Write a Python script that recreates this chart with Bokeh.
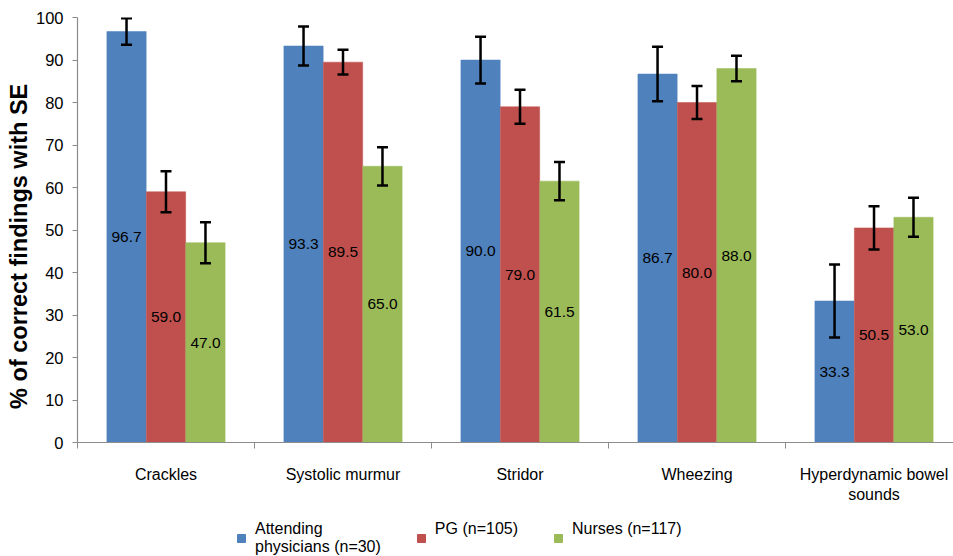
from bokeh.plotting import figure
from bokeh.models import (ColumnDataSource, Whisker, TeeHead, FixedTicker, Legend,
                          LegendItem, Range1d)
from bokeh.layouts import column
from bokeh.embed import file_html
from bokeh.resources import INLINE

categories = ["Crackles", "Systolic murmur", "Stridor", "Wheezing", "Hyperdynamic bowel\nsounds"]
series_names = ["Attending\nphysicians (n=30)", "PG (n=105)", "Nurses (n=117)"]
attending = [96.7, 93.3, 90.0, 86.7, 33.3]
pg = [59.0, 89.5, 79.0, 80.0, 50.5]
nurses = [47.0, 65.0, 61.5, 88.0, 53.0]
attending_se = [3.1, 4.6, 5.5, 6.4, 8.6]
pg_se = [4.8, 2.9, 4.0, 3.9, 5.1]
nurses_se = [4.8, 4.5, 4.5, 3.0, 4.6]
colors = ["#4F81BD", "#C0504D", "#9BBB59"]
y_ticks = [0, 10, 20, 30, 40, 50, 60, 70, 80, 90, 100]

FONT = "Liberation Sans"

p = figure(width=953, height=516, output_backend="svg", toolbar_location=None,
           x_range=Range1d(-0.5, 4.449), y_range=Range1d(0, 100),
           min_border_top=17, min_border_left=77, min_border_right=0,
           min_border_bottom=74)
p.outline_line_color = None
p.xgrid.visible = False
p.ygrid.visible = False

offsets = [-0.223, 0.0, 0.223]
bar_w = 0.222
all_vals = [attending, pg, nurses]
all_se = [attending_se, pg_se, nurses_se]

for i in range(3):
    xs = [k + offsets[i] for k in range(len(categories))]
    vals = all_vals[i]
    se = all_se[i]
    src = ColumnDataSource(dict(
        x=xs, top=vals, mid=[v / 2 for v in vals],
        upper=[v + s for v, s in zip(vals, se)],
        lower=[v - s for v, s in zip(vals, se)],
        lab=["%.1f" % v for v in vals]))
    p.vbar(x="x", top="top", width=bar_w, source=src, fill_color=colors[i],
           line_color=colors[i], line_width=0.5)
    w = Whisker(base="x", upper="upper", lower="lower", source=src,
                line_color="black", line_width=2.5, level="annotation",
                upper_head=TeeHead(size=11, line_color="black", line_width=2.5),
                lower_head=TeeHead(size=11, line_color="black", line_width=2.5))
    p.add_layout(w)
    p.text(x="x", y="mid", text="lab", source=src, text_align="center",
           text_baseline="middle", text_font_size="15.5px", text_color="black",
           text_font={"value": FONT})

# x axis
p.xaxis.ticker = FixedTicker(ticks=list(range(len(categories))),
                             minor_ticks=[-0.5, 0.5, 1.5, 2.5, 3.5, 4.5])
p.xaxis.major_label_overrides = {k: c for k, c in enumerate(categories)}
p.xaxis.major_tick_out = 0
p.xaxis.major_tick_in = 0
p.xaxis.minor_tick_out = 6
p.xaxis.minor_tick_in = 0
p.xaxis.major_label_standoff = 17
p.xaxis.major_label_text_font = FONT
p.xaxis.major_label_text_font_size = "16px"
p.xaxis.major_label_text_color = "black"
p.xaxis.axis_line_color = "#8c8c8c"
p.xaxis.minor_tick_line_color = "#8c8c8c"
p.xaxis.axis_line_width = 1.2

# y axis
p.yaxis.ticker = FixedTicker(ticks=y_ticks, minor_ticks=[])
p.yaxis.major_tick_out = 5
p.yaxis.major_tick_in = 0
p.yaxis.major_label_standoff = 9
p.yaxis.major_label_text_font = FONT
p.yaxis.major_label_text_font_size = "16.5px"
p.yaxis.major_label_text_color = "black"
p.yaxis.axis_line_color = "#8c8c8c"
p.yaxis.major_tick_line_color = "#8c8c8c"
p.yaxis.axis_line_width = 1.2
p.yaxis.axis_label = "% of correct findings with SE" + "\u00a0" * 5
p.yaxis.axis_label_text_font = FONT
p.yaxis.axis_label_text_font_style = "bold"
p.yaxis.axis_label_text_font_size = "23.5px"
p.yaxis.axis_label_text_color = "black"
p.yaxis.axis_label_standoff = 1

# legend strip below the chart (its frame is aligned with the chart frame)
lp = figure(width=953, height=40, output_backend="svg", toolbar_location=None,
            x_range=Range1d(0, 1), y_range=Range1d(0, 1),
            x_axis_type=None, y_axis_type=None,
            min_border=0, min_border_left=0, min_border_right=0,
            min_border_top=0, min_border_bottom=0)
lp.outline_line_color = None
lp.xgrid.visible = False
lp.ygrid.visible = False
items = []
for i in range(3):
    # swatch renderers sit outside the visible range; only their legend glyph shows
    r = lp.vbar(x=[-10], top=[-10], bottom=[-11], width=0.1,
                fill_color=colors[i], line_color=colors[i])
    lab = series_names[i] if "\n" in series_names[i] else series_names[i] + "\n\u00a0"
    items.append(LegendItem(label=lab, renderers=[r]))
legend = Legend(items=items, orientation="horizontal", location=(159, 0),
                glyph_width=10, glyph_height=10, label_standoff=9, spacing=35,
                padding=0, margin=0, border_line_color=None,
                background_fill_alpha=0,
                label_text_font=FONT, label_text_font_size="16px",
                label_text_color="black")
lp.add_layout(legend, "center")

layout = column(p, lp, spacing=0)
open("out.html", "w").write(file_html(layout, INLINE))
